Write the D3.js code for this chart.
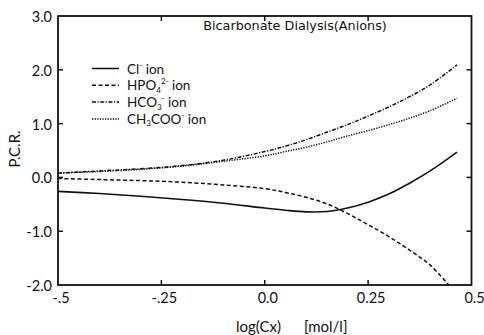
<!DOCTYPE html>
<html><head><meta charset="utf-8">
<script src="https://cdn.jsdelivr.net/npm/d3@7/dist/d3.min.js"></script>
<style>
html,body{margin:0;padding:0;background:#fff;}
svg{display:block;font-family:Lato,"Open Sans",sans-serif;}
</style></head>
<body><svg id="c" width="484" height="335"></svg>
<script>
const xValues = [-0.5, -0.4, -0.3, -0.2, -0.1, 0.0, 0.05, 0.1, 0.15, 0.2, 0.25, 0.3, 0.35, 0.4, 0.465];
const clValues = [-0.26, -0.30, -0.35, -0.41, -0.48, -0.57, -0.61, -0.64, -0.635, -0.57, -0.46, -0.31, -0.11, 0.12, 0.47];
const hpo4X = [-0.5, -0.4, -0.3, -0.2, -0.1, 0.0, 0.05, 0.1, 0.15, 0.2, 0.25, 0.3, 0.35, 0.4, 0.445];
const hpo4Values = [-0.02, -0.04, -0.06, -0.09, -0.14, -0.21, -0.28, -0.37, -0.49, -0.67, -0.88, -1.10, -1.35, -1.63, -2.0];
const hco3Values = [0.08, 0.12, 0.16, 0.22, 0.32, 0.48, 0.58, 0.70, 0.84, 0.98, 1.14, 1.31, 1.50, 1.72, 2.09];
const ch3cooValues = [0.08, 0.11, 0.15, 0.21, 0.30, 0.40, 0.48, 0.56, 0.66, 0.77, 0.87, 0.98, 1.10, 1.24, 1.47];
const xTicks = [-0.5, -0.25, 0.0, 0.25, 0.5];
const xTickLabels = ["-.5", "-.25", "0.0", "0.25", "0.5"];
const yTicks = [3, 2, 1, 0, -1, -2];
const yTickLabels = ["3.0", "2.0", "1.0", "0.0", "-1.0", "-2.0"];

const W = 484, H = 335;
const m = {l: 58, r: 12.5, t: 16, b: 50};
const svg = d3.select("#c");
const x = d3.scaleLinear().domain([-0.5, 0.5]).range([m.l, W - m.r]);
const y = d3.scaleLinear().domain([-2, 3]).range([H - m.b, m.t]);

const series = [
  {name: "cl", xs: xValues, ys: clValues, dash: null},
  {name: "hpo4", xs: hpo4X, ys: hpo4Values, dash: "4,2.5"},
  {name: "hco3", xs: xValues, ys: hco3Values, dash: "4,1.5,1.2,1.5"},
  {name: "ch3coo", xs: xValues, ys: ch3cooValues, dash: "1.3,1.3"}
];

const line = d3.line().x(d => x(d[0])).y(d => y(d[1])).curve(d3.curveCatmullRom.alpha(0.5));
series.forEach(s => {
  svg.append("path")
    .attr("d", line(s.xs.map((v, i) => [v, s.ys[i]])))
    .attr("fill", "none").attr("stroke", "#111").attr("stroke-width", s.dash ? 1.5 : 1.6)
    .attr("stroke-dasharray", s.dash);
});

// frame
svg.append("rect").attr("x", x(-0.5)).attr("y", y(3)).attr("width", x(0.5) - x(-0.5)).attr("height", y(-2) - y(3))
  .attr("fill", "none").attr("stroke", "#111").attr("stroke-width", 1.8);

// inner ticks
const tl = 5;
const innerX = [-0.25, 0, 0.25];
const innerY = [2, 1, 0, -1];
const tg = svg.append("g").attr("stroke", "#111").attr("stroke-width", 1.5);
innerX.forEach(v => {
  tg.append("line").attr("x1", x(v)).attr("x2", x(v)).attr("y1", y(3)).attr("y2", y(3) + tl);
  tg.append("line").attr("x1", x(v)).attr("x2", x(v)).attr("y1", y(-2)).attr("y2", y(-2) - tl);
});
innerY.forEach(v => {
  tg.append("line").attr("x1", x(-0.5)).attr("x2", x(-0.5) + tl).attr("y1", y(v)).attr("y2", y(v));
  tg.append("line").attr("x1", x(0.5)).attr("x2", x(0.5) - tl).attr("y1", y(v)).attr("y2", y(v));
});

// tick labels
xTicks.forEach((v, i) => {
  svg.append("text").attr("x", x(v) + 3).attr("y", y(-2) + 18).attr("text-anchor", "middle")
    .attr("font-size", 14.5).attr("fill", "#111").text(xTickLabels[i]);
});
yTicks.forEach((v, i) => {
  svg.append("text").attr("x", 52).attr("y", y(v) + 6).attr("text-anchor", "end")
    .attr("font-size", 14.5).attr("fill", "#111").text(yTickLabels[i]);
});

// title
svg.append("text").attr("x", 295).attr("y", 30).attr("text-anchor", "middle")
  .attr("font-family", "DejaVu Sans").attr("font-size", 12.8).attr("fill", "#111")
  .text("Bicarbonate Dialysis(Anions)");

// axis titles
svg.append("text").attr("transform", "translate(20,149) rotate(-90)").attr("text-anchor", "middle")
  .attr("font-size", 15).attr("fill", "#111").text("P.C.R.");
svg.append("text").attr("x", 236).attr("y", 332).attr("font-size", 15).attr("fill", "#111").text("log(Cx)");
svg.append("text").attr("x", 304).attr("y", 332).attr("font-size", 15).attr("fill", "#111").text("[mol/l]");

// legend
const legend = [
  {parts: [["Cl", 0], ["-", 1], [" ion", 0]]},
  {parts: [["HPO", 0], ["4", -1], ["2-", 1], [" ion", 0]]},
  {parts: [["HCO", 0], ["3", -1], ["-", 1], [" ion", 0]]},
  {parts: [["CH", 0], ["3", -1], ["COO", 0], ["-", 1], [" ion", 0]]}
];
legend.forEach((L, i) => {
  const yy = 68.5 + i * 16.8;
  svg.append("line").attr("x1", 92).attr("x2", 119).attr("y1", yy).attr("y2", yy)
    .attr("stroke", "#111").attr("stroke-width", 1.5).attr("stroke-dasharray", series[i].dash);
  const t = svg.append("text").attr("x", 127).attr("y", yy + 5).attr("font-size", 13.5).attr("fill", "#111");
  L.parts.forEach(p => {
    const ts = t.append("tspan").text(p[0]);
    if (p[1] !== 0) ts.attr("font-size", 8);
    ts.attr("y", p[1] === 1 ? yy - 1 : (p[1] === -1 ? yy + 7.5 : yy + 5));
  });
});
</script></body></html>
